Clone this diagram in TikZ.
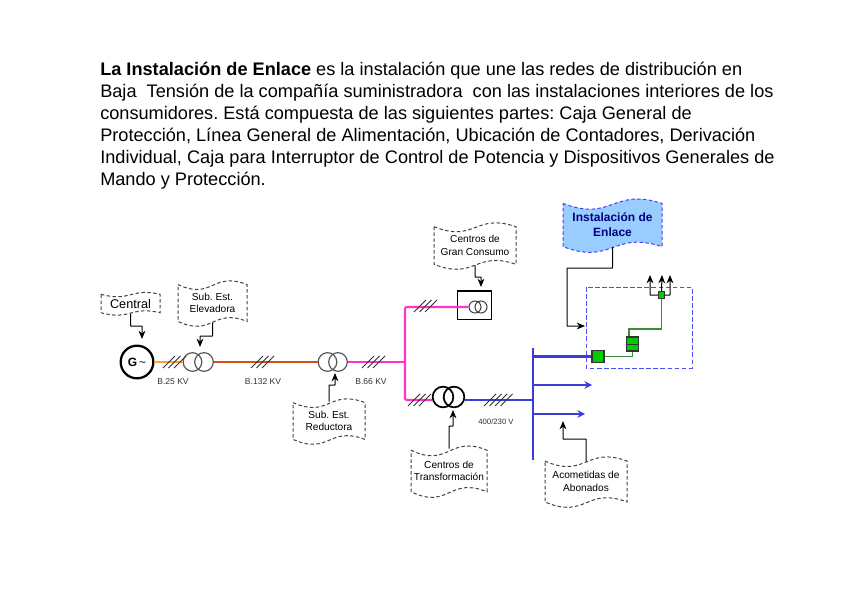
\documentclass[tikz,border=0pt]{standalone}
\usepackage{fontspec}
\setmainfont{Liberation Sans}
\usetikzlibrary{arrows.meta}
\frenchspacing
\definecolor{lineorange}{HTML}{FFA040}
\definecolor{linered}{HTML}{D0501A}
\definecolor{linepink}{HTML}{FF33CC}
\definecolor{lineblue}{HTML}{3C3CD8}
\definecolor{linegreen}{HTML}{3C8C3C}
\definecolor{boxgreen}{HTML}{00CC00}
\definecolor{flagblue}{HTML}{99CCFF}
\definecolor{flagnavy}{HTML}{000080}
\definecolor{tgray}{HTML}{555555}
\tikzset{
  callout/.style={-{Stealth[length=2.2mm,width=1.8mm]},line width=0.75pt,rounded corners=0.3pt},
  flagline/.style={dashed,dash pattern=on 2.6pt off 1.8pt,line width=0.75pt,draw=black!75},
  flagtext/.style={font=\fontsize{7.6}{9.4}\selectfont,align=center,inner sep=0pt},
  voltage/.style={font=\fontsize{6.4}{7}\selectfont,inner sep=0pt,text=black!80},
  tcoil/.style={circle,draw=tgray,line width=0.9pt,inner sep=0pt,minimum size=14pt},
  tcoilbig/.style={circle,draw=black,line width=1.3pt,inner sep=0pt,minimum size=15.5pt},
  tcoilsmall/.style={circle,draw=tgray!80!black,line width=0.8pt,inner sep=0pt,minimum size=9pt},
  greenbox/.style={draw=black!80,fill=boxgreen,line width=0.8pt,inner sep=0pt}
}
% wavy note: name, left, top, right, bottom, path options, text options, text
\newcommand\flag[8]{{%
  \pgfmathsetmacro\fw{#4-#2}
  \pgfmathsetmacro\fh{#5-#3}
  \draw[#6] (#2,{#3+0.1*\fh})
    .. controls ({#2+0.5*\fw},{#3+0.45*\fh}) and ({#2+0.5*\fw},{#3-0.2*\fh}) .. (#4,{#3+0.1*\fh})
    -- (#4,{#5-0.1*\fh})
    .. controls ({#2+0.5*\fw},{#5-0.4*\fh}) and ({#2+0.5*\fw},{#5+0.25*\fh}) .. (#2,{#5-0.1*\fh})
    -- cycle;
  \node[flagtext,#7,minimum width=\fw*0.75pt,minimum height=\fh*0.75pt] (#1) at ({(#2+#4)/2},{(#3+#5)/2}) {#8};}}
% slashes across a line
\newcommand\hash[3]{%
  \foreach \s in {1,...,#3}{
    \draw[line width=0.65pt,black!80] ({#1+5.5*(\s-1)-6},#2+6) -- ({#1+5.5*(\s-1)+6},#2-6);}}
\begin{document}
\begin{tikzpicture}[x=0.75pt,y=-0.75pt]
\useasboundingbox (0,0) rectangle (848,599);
% intro text
\node[anchor=north west,inner sep=0pt,align=left,font=\fontsize{13.62}{16.55}\selectfont] (intro) at (100,62)
  {\textbf{La Instalación de Enlace} es la instalación que une las redes de distribución en\\
   Baja\ \ Tensión de la compañía suministradora\ \ con las instalaciones interiores de los\\
   consumidores. Está compuesta de las siguientes partes: Caja General de\\
   Protección, Línea General de Alimentación, Ubicación de Contadores, Derivación\\
   Individual, Caja para Interruptor de Control de Potencia y Dispositivos Generales de\\
   Mando y Protección.};
% generator and transformers
\node[circle,draw=black,line width=1.7pt,minimum size=24.5pt,inner sep=0pt,font=\fontsize{9}{9}\selectfont] (gen) at (137,362) {\textbf{G}\,\textasciitilde};
\node[tcoil] (elevA) at (192.5,362) {};
\node[tcoil] (elevB) at (204,362) {};
\node[tcoil] (reduA) at (327.5,362) {};
\node[tcoil] (reduB) at (338,362) {};
\node[tcoilbig] (ctA) at (443,397) {};
\node[tcoilbig] (ctB) at (454,397) {};
\node[draw=black,line width=0.8pt,minimum width=26pt,minimum height=21.5pt,inner sep=0pt] (gcbox) at (474.5,305.5) {};
\draw[line width=1.5pt] (gcbox.north west) -- (gcbox.north east);
\node[tcoilsmall] (gcA) at (475,307) {};
\node[tcoilsmall] (gcB) at (481,307) {};
% junctions of the network
\coordinate (jmid) at (405,362);
\coordinate (jtop) at (405,307);
\coordinate (jbot) at (405,400);
\coordinate (bustop) at (533,348);
\coordinate (busbot) at (533,460);
\coordinate (busA) at (533,356.5);
\coordinate (busB) at (533,385);
\coordinate (busC) at (533,414);
\coordinate (busD) at (533,400);
\coordinate (tipB) at (592,385);
\coordinate (tipC) at (585,414);
% network lines
\draw[lineorange,line width=1.9pt] (gen) -- (elevA);
\draw[linered,line width=1.9pt] (elevB) -- (reduA);
\draw[linepink,line width=1.7pt] (reduB) -- (jmid);
\draw[linepink,line width=1.6pt,rounded corners=1pt] (gcA.west) -- (jtop) -- (jbot) -- (ctA.west |- jbot);
\draw[lineblue,line width=1.7pt] (ctB.east |- busD) -- (busD);
\draw[lineblue,line width=1.8pt] (bustop) -- (busbot);
\node[greenbox,minimum size=9pt] (mainbox) at (598,356.5) {};
\draw[lineblue,line width=1.9pt] (busA) -- (mainbox);
\draw[lineblue,line width=1.7pt,-{Stealth[length=2mm,width=2mm]}] (busB) -- (tipB);
\draw[lineblue,line width=1.7pt,-{Stealth[length=2mm,width=2mm]}] (busC) -- (tipC);
\hash{169}{362}{3}
\hash{257}{362}{3}
\hash{368}{362}{3}
\hash{420}{306}{3}
\hash{414}{400}{3}
\hash{490}{400}{4}
% voltages
\node[voltage] (v25) at (173,382) {B.25 KV};
\node[voltage] (v132) at (263,382) {B.132 KV};
\node[voltage] (v66) at (371,382) {B.66 KV};
\node[voltage,font=\fontsize{5.8}{7}\selectfont] (v400) at (496,422) {400/230 V};
% link installation
\draw[draw=blue!70,line width=0.75pt,dashed,dash pattern=on 3.5pt off 1.8pt] (586,287) rectangle (692,368);
\node[greenbox,minimum width=8.5pt,minimum height=10.5pt] (cpbox) at (632.5,344) {};
\draw[line width=0.7pt,black!80] (cpbox.west) -- (cpbox.east);
\node[greenbox,minimum width=4.5pt,minimum height=5pt,line width=0.7pt] (endbox) at (661.5,295) {};
\draw[linegreen,line width=0.9pt] (mainbox.east) -| (cpbox.south);
\draw[linegreen,line width=0.9pt] ([xshift=-2.6pt]cpbox.north) |- (640,329) -| (endbox.south);
\coordinate (tipL) at (650,275);
\coordinate (tipM) at (662,275);
\coordinate (tipR) at (670,275);
\draw[callout] (endbox.west) -| (tipL);
\draw[callout] (endbox.north) -- (tipM);
\draw[callout] (endbox.east) -| (tipR);
% wavy notes
\flag{central}{101}{292}{160}{315}{flagline}{font=\fontsize{9.5}{11}\selectfont}{Central}
\flag{elevadora}{178}{280}{247}{326}{flagline}{}{Sub.\ Est.\\Elevadora}
\flag{reductora}{293}{398}{365}{444}{flagline}{}{Sub.\ Est.\\Reductora}
\flag{consumo}{434}{222}{516}{269}{flagline}{}{Centros de\\Gran Consumo}
\flag{enlace}{563}{198}{662}{252}{flagline,fill=flagblue,draw=blue!75}{font=\fontsize{9}{11.2}\bfseries\selectfont,text=flagnavy}{Instalación de\\Enlace}
\flag{transformacion}{411}{445}{487}{497}{flagline}{}{Centros de\\Transformación}
\flag{acometidas}{545}{456}{627}{507}{flagline}{}{Acometidas de\\Abonados}
% note leaders
\coordinate (tipG) at (142,339);
\coordinate (tipE) at (200,347);
\coordinate (tipR2) at (335,373);
\coordinate (tipT) at (453,410);
\coordinate (tipA) at (563,421);
\coordinate (tipGC) at (481,287);
\coordinate (tipI) at (585,326);
\draw[callout] ([yshift=1pt]central.south) |- (142,326) -- (tipG);
\draw[callout] ([yshift=3pt]elevadora.south) |- (200,336) -- (tipE);
\draw[callout] ([yshift=-3pt]reductora.north) |- (335,385) -- (tipR2);
\draw[callout] ([yshift=-3pt]transformacion.north) |- (453,426) -- (tipT);
\draw[callout] ([yshift=-4.5pt]acometidas.north) |- (563,439) -- (tipA);
\draw[callout] ([yshift=3pt]consumo.south) |- (481,277) -- (tipGC);
\draw[callout] ([yshift=4pt]enlace.south) |- (567,268) |- (tipI);
\end{tikzpicture}
\end{document}
